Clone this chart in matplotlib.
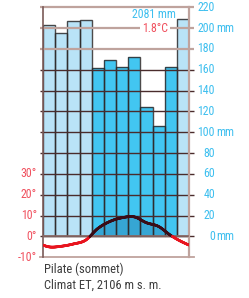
import numpy as np
import matplotlib
matplotlib.use('Agg')
import matplotlib.pyplot as plt
from matplotlib.collections import LineCollection

# monthly climate data, Pilate (sommet)
months = ['J', 'F', 'M', 'A', 'M', 'J', 'J', 'A', 'S', 'O', 'N', 'D']
precip_mm = [203, 195, 207, 208, 162, 169, 163, 172, 124, 106, 163, 209]
temp_c = [-5.0, -4.7, -3.6, -1.8, 3.8, 7.2, 9.0, 9.4, 6.6, 4.8, 0.5, -2.8]
mm_ticks = [0, 20, 40, 60, 80, 100, 120, 140, 160, 180, 200, 220]
mm_labels = ['0', '20', '40', '60', '80', '100', '120', '140', '160', '180', '200', '220']
deg_ticks = [-10, 0, 10, 20, 30]
deg_labels = ['-10°', '0°', '10°', '20°', '30°']
total_label = '2081 mm'
mean_label = '1.8°C'
station = 'Pilate (sommet)'
subtitle = 'Climat ET, 2106 m s. m.'

BLUE_TXT = '#3dbfef'
RED_TXT = '#f0505e'
LIGHT_BAR = '#b9e3f7'
DARK_BAR = '#42c6f1'
FILL = '#36a6d4'
GRID_DARK = '#4a2c2c'
GRID_LIGHT = '#bfa39d'
FONT = ['Liberation Sans Narrow', 'Roboto Condensed', 'Liberation Sans', 'DejaVu Sans']

plt.rcParams['font.family'] = FONT

fig = plt.figure(figsize=(2.49, 2.98), dpi=100)
ax = fig.add_axes([43/249, 40.7/298, 146/249, 250/298])
ax.set_xlim(0, 12)
ax.set_ylim(-20, 220)
ax.axis('off')

x = np.arange(12) + 0.5
t2 = np.array(temp_c) * 2  # 10 degC <-> 20 mm
cols = [LIGHT_BAR if t < 0 else DARK_BAR for t in temp_c]
ax.bar(x, precip_mm, width=1.0, color=cols, edgecolor='none', zorder=1)

# smooth temperature curve (periodic Catmull-Rom for drawing)
ext = np.concatenate([t2[-2:], t2, t2[:2]])
xe = np.arange(-2, 14) + 0.5
xs, ys = [], []
for i in range(1, len(ext) - 2):
    p0, p1, p2, p3 = ext[i-1], ext[i], ext[i+1], ext[i+2]
    s = np.linspace(0, 1, 40, endpoint=False)
    yy = 0.5 * ((2*p1) + (-p0 + p2)*s + (2*p0 - 5*p1 + 4*p2 - p3)*s**2 + (-p0 + 3*p1 - 3*p2 + p3)*s**3)
    xs.append(xe[i] + s)
    ys.append(yy)
xs = np.concatenate(xs)
ys = np.concatenate(ys)
keep = (xs >= 0) & (xs <= 12)
xs, ys = xs[keep], ys[keep]

ax.fill_between(xs, 0, ys, where=ys > 0, color=FILL, lw=0, zorder=2, interpolate=True)
ax.bar(x, precip_mm, width=1.0, fill=False, edgecolor='#2e2a2a', lw=1.0, alpha=0.85, zorder=3)

# grid lines
for v in mm_ticks:
    c = GRID_DARK if 0 <= v <= 160 else GRID_LIGHT
    lw = 1.0 if 0 <= v <= 160 else 1.6
    ax.plot([-0.25, 12.4], [v, v], color=c, lw=lw, zorder=4, clip_on=False, solid_capstyle='butt')
ax.plot([-0.25, 12.4], [-20, -20], color=GRID_LIGHT, lw=1.3, zorder=4, clip_on=False)
ax.plot([0, 0], [-20, 220], color='#7a5a58', lw=1.2, zorder=4, clip_on=False)
ax.plot([12, 12], [-20, 220], color=GRID_LIGHT, lw=1.6, zorder=4, clip_on=False)
ax.plot([0, 12], [0, 0], color='#8a6a66', lw=1.2, zorder=4)

# temperature line: red below zero, dark above
pts = np.column_stack([xs, ys])
segs = np.stack([pts[:-1], pts[1:]], axis=1)
mid = (ys[:-1] + ys[1:]) / 2
lc = LineCollection(segs, colors=['#e8141e' if m < 0 else '#3a0c16' for m in mid],
                    linewidths=1.9, zorder=5, capstyle='round')
ax.add_collection(lc)

# right axis labels (precipitation)
for v, lab in zip(mm_ticks, mm_labels):
    ax.text(1.178, v, lab, transform=ax.get_yaxis_transform(), ha='right', va='center',
            color=BLUE_TXT, fontsize=8.6)
    if v in (0, 100, 200):
        ax.text(1.185, v, 'mm', transform=ax.get_yaxis_transform(), ha='left', va='center',
                color=BLUE_TXT, fontsize=8.6)

# left axis labels (temperature)
for v, lab in zip(deg_ticks, deg_labels):
    ax.text(-0.041, v*2, lab, transform=ax.get_yaxis_transform(), ha='right', va='center',
            color=RED_TXT, fontsize=8.6)

ax.text((176-43)/12.17, 212.8, total_label, ha='right', va='center', color=BLUE_TXT,
        fontsize=8.6, zorder=6)
ax.text((168-43)/12.17, 199.4, mean_label, ha='right', va='center', color=RED_TXT,
        fontsize=8.6, zorder=6,
        bbox=dict(facecolor='white', edgecolor='none', pad=1.5))

fig.text(44/249, 1 - 269/298, station, ha='left', va='center', color='#3c3c3c', fontsize=9)
fig.text(44/249, 1 - 285/298, subtitle, ha='left', va='center', color='#3c3c3c', fontsize=9)

fig.savefig('out.png', dpi=100, facecolor='white')
